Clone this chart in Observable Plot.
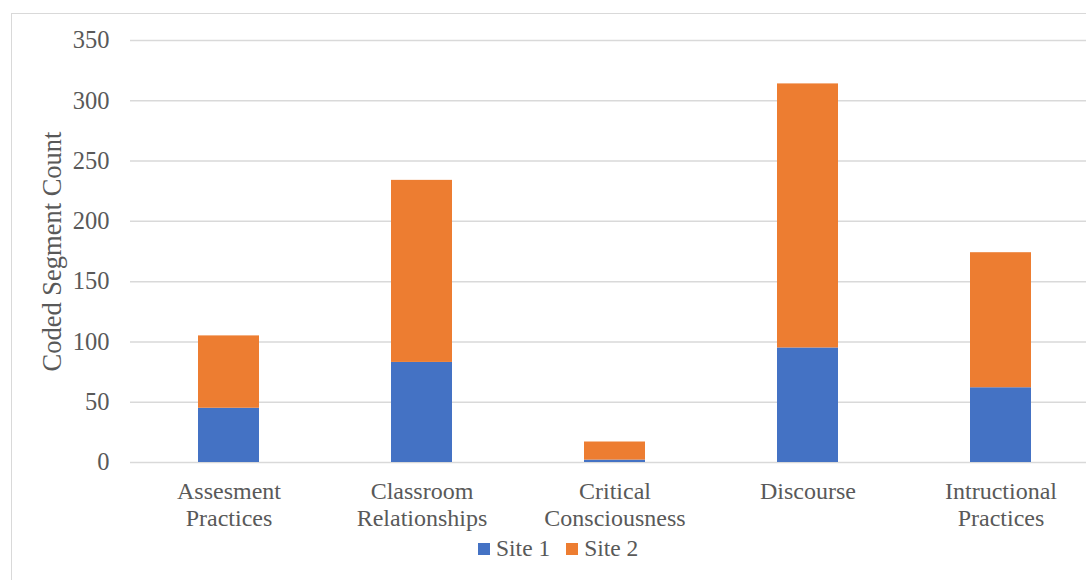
<!DOCTYPE html>
<html>
<head>
<meta charset="utf-8">
<script src="https://cdn.jsdelivr.net/npm/d3@7"></script>
<script src="https://cdn.jsdelivr.net/npm/@observablehq/plot@0.6"></script>
<style>
  html, body { margin: 0; padding: 0; background: #fff; }
  body { width: 1086px; height: 580px; overflow: hidden; position: relative; font-family: "Liberation Serif", "Times New Roman", serif; }
  #frame { position: absolute; left: 11px; top: 13px; width: 1200px; height: 700px; border: 1.5px solid #d9d9d9; box-sizing: border-box; }
  #chart { position: absolute; left: 0; top: 0; width: 1099px; }
  #chart svg { max-width: none !important; }
  #legend { position: absolute; left: 478px; top: 537px; display: flex; align-items: center; font-size: 23.5px; color: #595959; line-height: 1; }
  #legend .item { display: flex; align-items: center; margin-right: 16px; }
  #legend .sw { width: 12px; height: 12px; margin-right: 6px; }
</style>
</head>
<body>
<div id="frame"></div>
<div id="chart"></div>
<div id="legend"></div>
<script>
const categories = ["Assesment Practices", "Classroom Relationships", "Critical Consciousness", "Discourse", "Intructional Practices"];
const categoryLabels = ["Assesment\nPractices", "Classroom\nRelationships", "Critical\nConsciousness", "Discourse", "Intructional\nPractices"];
const seriesNames = ["Site 1", "Site 2"];
const site1 = [45, 83, 2, 95, 62];
const site2 = [60, 151, 15, 219, 112];
const yTicks = [0, 50, 100, 150, 200, 250, 300, 350];
const colors = ["#4472C4", "#ED7D31"];

const rows = [];
categories.forEach((c, i) => {
  rows.push({category: c, series: seriesNames[0], value: site1[i]});
  rows.push({category: c, series: seriesNames[1], value: site2[i]});
});
const labelOf = new Map(categories.map((c, i) => [c, categoryLabels[i]]));

const textColor = "#595959";
const chart = Plot.plot({
  width: 1099,
  height: 535,
  marginTop: 40,
  marginBottom: 73,
  marginLeft: 130,
  marginRight: 0,
  style: {fontFamily: "'Liberation Serif', 'Times New Roman', serif", fontSize: "24px", color: textColor, background: "transparent", maxWidth: "none"},
  x: {type: "band", domain: categories, paddingInner: 0.685, paddingOuter: 0.3425, align: 0.5},
  y: {domain: [0, 350]},
  color: {domain: seriesNames, range: colors},
  marks: [
    Plot.ruleY(yTicks, {stroke: "#d9d9d9", strokeWidth: 1.5}),
    Plot.barY(rows, {x: "category", y: "value", fill: "series", order: seriesNames, inset: 0}),
    Plot.axisY({ticks: yTicks, tickSize: 0, tickPadding: 21, fill: textColor, label: null, fontSize: 24.5}),
    Plot.axisY({ticks: [], tickSize: 0, label: "Coded Segment Count", labelAnchor: "center", labelArrow: "none", labelOffset: 88, fontSize: 26.5, fill: textColor}),
    Plot.axisX({tickSize: 0, tickPadding: 17.5, tickFormat: d => labelOf.get(d), lineHeight: 1.125, fill: textColor, label: null, fontSize: 24})
  ]
});
document.getElementById("chart").appendChild(chart);

const legend = document.getElementById("legend");
seriesNames.forEach((s, i) => {
  const item = document.createElement("div");
  item.className = "item";
  const sw = document.createElement("div");
  sw.className = "sw";
  sw.style.background = colors[i];
  const t = document.createElement("span");
  t.textContent = s;
  item.appendChild(sw);
  item.appendChild(t);
  legend.appendChild(item);
});
</script>
</body>
</html>
